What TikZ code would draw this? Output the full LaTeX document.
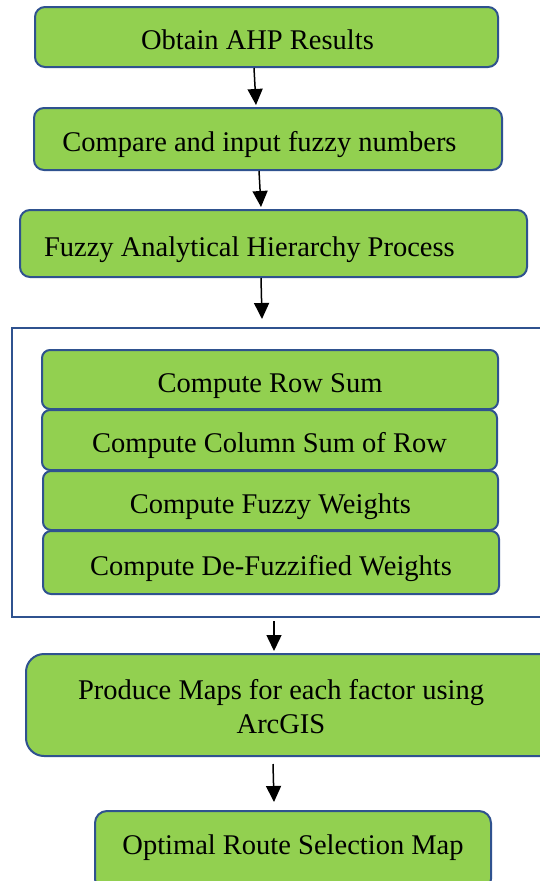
\documentclass[tikz,border=0pt]{standalone}
\usepackage{fontspec}
\setmainfont{Liberation Serif}
\usetikzlibrary{arrows.meta}
\definecolor{boxgreen}{HTML}{92D050}
\definecolor{boxblue}{HTML}{2F528F}

\begin{document}
\begin{tikzpicture}[x=1pt, y=-1pt,
        box/.style={draw=boxblue, fill=boxgreen, line width=2pt, rounded corners=10pt,
                    inner sep=0pt, text height=25pt, text depth=0pt,
                    font=\fontsize{28.5}{34}\selectfont},
        arr/.style={-{Triangle[width=15pt, length=16pt]}, line width=1.5pt}]
        \useasboundingbox (0,0) rectangle (540,881);
        \clip (0,0) rectangle (540,881);

        \node[box, minimum width=463pt, minimum height=60pt] (ahp) at (266.5,37) {\hspace*{-18pt}Obtain AHP Results};
        \node[box, minimum width=468pt, minimum height=62pt] (compare) at (268,139) {\hspace*{-17pt}Compare and input fuzzy numbers};
        \node[box, minimum width=507pt, minimum height=67pt, text width=459pt, align=flush left] (fahp) at (273.5,243.5) {Fuzzy Analytical Hierarchy Process};

        % the four computing steps
        \node[draw=boxblue, line width=2pt, minimum width=548pt, minimum height=289pt] (steps) at (286,472.5) {};
        \node[box, rounded corners=8pt, minimum width=456pt, minimum height=59pt] (rowsum) at (270,379.5) {Compute Row Sum};
        \node[box, rounded corners=8pt, minimum width=455pt, minimum height=60pt] (colsum) at (269.5,440) {Compute Column Sum of Row};
        \node[box, rounded corners=8pt, minimum width=455pt, minimum height=59pt] (fuzzyw) at (270.5,500.5) {Compute Fuzzy Weights};
        \node[box, rounded corners=8pt, minimum width=456pt, minimum height=63pt] (defuzz) at (271,562.5) {Compute De-Fuzzified Weights};

        \node[box, rounded corners=18pt, minimum width=534pt, minimum height=102pt] (maps) at (293,705) {};
        \node[align=center, font=\fontsize{28.5}{34}\selectfont] (mapstext) at (281,707) {Produce Maps for each factor using\\ArcGIS};

        \node[box, rounded corners=12pt, minimum width=396pt, minimum height=80pt, text height=19pt, text depth=12pt] (route) at (293,851) {Optimal Route Selection Map};

        \draw[arr] ([xshift=-12.5pt]ahp.south) -- ([xshift=-12pt, yshift=2pt]compare.north);
        \draw[arr] ([xshift=-9pt]compare.south) -- ([xshift=-12.5pt, yshift=2pt]fahp.north);
        \draw[arr] ([xshift=-12.5pt]fahp.south) -- ([xshift=-24pt, yshift=8pt]steps.north);
        \draw[arr] ([xshift=-12pt, yshift=-3pt]steps.south) -- ([xshift=-19pt, yshift=2pt]maps.north);
        \draw[arr] ([xshift=-20pt, yshift=-7pt]maps.south) -- ([xshift=-19pt, yshift=8pt]route.north);
\end{tikzpicture}
\end{document}
